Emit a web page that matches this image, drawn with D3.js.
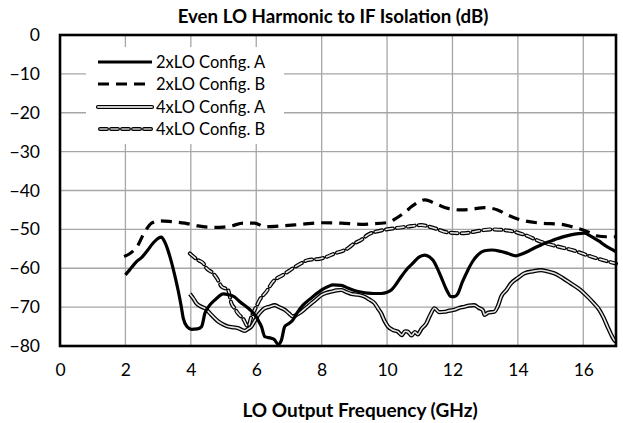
<!DOCTYPE html>
<html>
<head>
<meta charset="utf-8">
<script src="https://cdn.jsdelivr.net/npm/d3@7"></script>
<style>
  html, body { margin: 0; padding: 0; background: #fff; }
  svg text { font-family: Lato, "Open Sans", sans-serif; fill: #000; }
</style>
</head>
<body>
<div id="chart"></div>
<script>
// Frequency (GHz) / isolation (dB) pairs for each configuration
const lo2A = [
  [2.0,-61.7],[2.14,-60.3],[2.34,-58.3],[2.5,-57.2],[2.65,-55.7],[2.85,-53.5],[3.0,-52.3],[3.1,-52.0],
  [3.2,-53.2],[3.36,-57],[3.5,-61.5],[3.61,-65.6],[3.7,-69.5],[3.77,-72.9],[3.88,-75.0],[4.02,-75.7],
  [4.2,-75.6],[4.33,-75],[4.43,-71.6],[4.55,-69.8],[4.73,-68.2],[4.85,-67.3],[4.99,-66.6],[5.15,-66.8],
  [5.34,-67.4],[5.5,-68.6],[5.65,-69.6],[5.8,-70.6],[6.0,-72.5],[6.1,-74],[6.16,-75],[6.26,-77.6],
  [6.46,-78],[6.55,-78.3],[6.67,-79.6],[6.77,-78.5],[6.87,-75],[7.0,-74.2],[7.12,-73.3],[7.25,-71.5],
  [7.43,-69.5],[7.6,-68.2],[7.73,-67.3],[7.9,-66.2],[8.04,-65.4],[8.2,-64.7],[8.35,-64.3],[8.6,-64.4],
  [8.8,-65.1],[9.0,-65.7],[9.2,-66.1],[9.41,-66.4],[9.6,-66.5],[9.82,-66.5],[10.0,-66.2],[10.13,-65.6],
  [10.3,-63.8],[10.43,-62.2],[10.6,-60.3],[10.79,-58.7],[10.95,-57.3],[11.15,-56.6],[11.3,-57.1],
  [11.4,-57.9],[11.52,-59.7],[11.65,-62.2],[11.8,-65.2],[11.96,-67.3],[12.06,-67.3],[12.16,-66.6],
  [12.3,-63.6],[12.47,-60.5],[12.62,-58.2],[12.77,-56.6],[12.98,-55.5],[13.2,-55.3],[13.49,-55.7],
  [13.7,-56.2],[13.94,-56.8],[14.1,-56.4],[14.3,-55.7],[14.5,-54.8],[14.71,-54],[14.9,-53.3],
  [15.11,-52.7],[15.35,-52],[15.62,-51.4],[15.85,-51.1],[16.03,-51],[16.2,-51.6],[16.34,-52.3],
  [16.5,-53.1],[16.64,-54],[16.8,-54.8],[17.0,-55.8]
];
const lo2B = [
  [1.96,-57],[2.14,-56.2],[2.3,-55],[2.39,-54],[2.54,-51.4],[2.7,-49.3],[2.8,-48.4],[3.05,-47.8],
  [3.4,-48],[3.82,-48.4],[4.22,-49.1],[4.73,-49.5],[5.0,-49.4],[5.24,-49.1],[5.6,-48.4],[5.95,-48.4],
  [6.26,-49.3],[6.77,-49.1],[7.38,-48.7],[7.99,-48.3],[8.6,-48.4],[9.21,-48.7],[9.52,-48.6],
  [10.03,-48.2],[10.25,-47.3],[10.43,-46.3],[10.6,-45.2],[10.74,-44.2],[10.95,-43],[11.15,-42.4],
  [11.3,-42.7],[11.45,-43.3],[11.65,-44],[11.86,-44.6],[12.27,-45],[12.6,-44.8],[12.98,-44.4],
  [13.2,-44.6],[13.38,-45],[13.69,-46.3],[13.95,-47.2],[14.2,-47.8],[14.71,-48.4],[15.32,-48.7],
  [15.6,-49.2],[15.83,-49.7],[16.13,-50.6],[16.44,-51.7],[16.7,-51.9],[17.0,-51.9]
];
const lo4A = [
  [3.97,-66.6],[4.08,-67.8],[4.17,-69],[4.3,-69.8],[4.43,-70.3],[4.63,-72],[4.84,-73.7],[5.0,-74.5],
  [5.14,-75],[5.3,-75.2],[5.44,-75.4],[5.65,-76.1],[5.75,-75.6],[5.85,-75],[5.95,-73.6],[6.06,-72],
  [6.16,-71],[6.26,-70.3],[6.4,-69.9],[6.56,-69.5],[6.7,-70],[6.87,-70.7],[7.0,-71.6],[7.12,-72.4],
  [7.25,-71.9],[7.38,-71.2],[7.55,-70],[7.69,-69],[7.85,-67.9],[7.99,-66.9],[8.15,-66.3],[8.3,-66],
  [8.45,-65.7],[8.6,-65.6],[8.75,-66.1],[8.91,-66.6],[9.1,-66.8],[9.31,-67.3],[9.45,-68],[9.62,-69],
  [9.72,-70.3],[9.82,-71.6],[9.92,-73.5],[10.03,-75],[10.18,-75.9],[10.33,-76.3],[10.45,-77.2],
  [10.55,-76.2],[10.63,-76.3],[10.75,-77.3],[10.85,-76.4],[10.94,-77],[11.05,-75.6],[11.2,-74.2],
  [11.32,-72],[11.45,-70.3],[11.6,-71.3],[11.76,-71.2],[11.9,-70.9],[12.06,-70.7],[12.2,-70.2],
  [12.37,-69.9],[12.5,-69.6],[12.67,-69.5],[12.8,-70.2],[12.93,-70.8],[12.98,-72],[13.1,-71.4],
  [13.28,-71.2],[13.4,-69.5],[13.49,-67.3],[13.65,-65.6],[13.79,-63.9],[14.0,-62.5],[14.2,-61.3],
  [14.45,-60.8],[14.71,-60.5],[14.9,-60.8],[15.11,-61.3],[15.35,-62.4],[15.62,-63.9],[15.9,-65.5],
  [16.13,-67.3],[16.3,-68.8],[16.49,-70.7],[16.62,-72.7],[16.74,-75],[16.85,-77],[16.95,-78.5],[17.0,-78.9]
];
const lo4B = [
  [3.97,-56.2],[4.22,-57.9],[4.38,-58.7],[4.48,-60],[4.68,-61.3],[4.8,-62.6],[4.94,-64.7],[5.14,-65.6],
  [5.24,-69],[5.34,-70.3],[5.44,-71.6],[5.6,-73],[5.75,-75],[5.85,-72.5],[6.0,-69.9],[6.1,-68.2],
  [6.31,-66],[6.51,-63.5],[6.82,-61.7],[7.12,-60],[7.4,-58.6],[7.58,-57.9],[7.99,-57.5],[8.4,-56.2],
  [8.8,-54.9],[9.0,-53.6],[9.21,-52.7],[9.41,-51.4],[9.82,-50.3],[10.23,-49.7],[10.63,-49.3],
  [11.04,-48.9],[11.45,-49.7],[11.86,-50.8],[12.37,-51],[12.67,-50.6],[13.18,-50],[13.69,-50.3],
  [14.2,-51.4],[14.71,-53.2],[15.22,-54.4],[15.73,-55.5],[16.24,-57],[16.6,-57.9],[17.0,-58.8]
];

const seriesNames = ["2xLO Config. A", "2xLO Config. B", "4xLO Config. A", "4xLO Config. B"];
const xTicks = [0, 2, 4, 6, 8, 10, 12, 14, 16];
const yTicks = [0, -10, -20, -30, -40, -50, -60, -70, -80];

const W = 623, H = 423;
const m = { left: 60, right: 7, top: 35, bottom: 77 };

const svg = d3.select("#chart").append("svg")
  .attr("width", W).attr("height", H);

const x = d3.scaleLinear().domain([0, 17]).range([m.left, W - m.right]);
const y = d3.scaleLinear().domain([-80, 0]).range([H - m.bottom, m.top]);

// grid
const grid = svg.append("g").attr("stroke", "#a6a6a6").attr("stroke-width", 1.3);
grid.selectAll("line.v").data(xTicks.filter(d => d > 0)).join("line")
  .attr("x1", d => x(d)).attr("x2", d => x(d))
  .attr("y1", y(0)).attr("y2", y(-80));
grid.selectAll("line.h").data(yTicks.filter(d => d < 0 && d > -80)).join("line")
  .attr("x1", x(0)).attr("x2", x(17))
  .attr("y1", d => y(d)).attr("y2", d => y(d));

// axes (labels only)
const xAxis = svg.append("g")
  .attr("transform", `translate(0,${y(-80)})`)
  .call(d3.axisBottom(x).tickValues(xTicks).tickSize(0).tickPadding(18));
xAxis.select(".domain").remove();
xAxis.selectAll("text").attr("font-size", 17.5).style("font-family", "Lato, sans-serif");

const yAxis = svg.append("g")
  .attr("transform", `translate(${x(0)},0)`)
  .call(d3.axisLeft(y).tickValues(yTicks).tickSize(0).tickPadding(20));
yAxis.select(".domain").remove();
yAxis.selectAll("text").attr("font-size", 17.5).style("font-family", "Lato, sans-serif");

// curves
const line = d3.line().x(d => x(d[0])).y(d => y(d[1])).curve(d3.curveMonotoneX);
const plot = svg.append("g");

plot.append("path").attr("d", line(lo4A)).attr("fill", "none")
  .attr("stroke", "#000").attr("stroke-width", 4.2).attr("stroke-linejoin", "round");
plot.append("path").attr("d", line(lo4A)).attr("fill", "none")
  .attr("stroke", "#e6e6e6").attr("stroke-width", 1.6).attr("stroke-linejoin", "round");

plot.append("path").attr("d", line(lo4B)).attr("fill", "none")
  .attr("stroke", "#000").attr("stroke-width", 4).attr("stroke-dasharray", "7,4")
  .attr("stroke-linecap", "round");
plot.append("path").attr("d", line(lo4B)).attr("fill", "none")
  .attr("stroke", "#e6e6e6").attr("stroke-width", 1.6).attr("stroke-dasharray", "7,4")
  .attr("stroke-linecap", "round");

plot.append("path").attr("d", line(lo2B)).attr("fill", "none")
  .attr("stroke", "#000").attr("stroke-width", 3.2).attr("stroke-dasharray", "11,7");

plot.append("path").attr("d", line(lo2A)).attr("fill", "none")
  .attr("stroke", "#000").attr("stroke-width", 3.2).attr("stroke-linejoin", "round");

// frame
svg.append("rect").attr("x", x(0)).attr("y", y(0))
  .attr("width", x(17) - x(0)).attr("height", y(-80) - y(0))
  .attr("fill", "none").attr("stroke", "#000").attr("stroke-width", 2.6);

// legend
const lg = svg.append("g");
lg.append("rect").attr("x", 86).attr("y", 47).attr("width", 198).attr("height", 97).attr("fill", "#fff");
const rowY = [62, 84, 107, 129];
const sx0 = 98, sx1 = 152;
seriesNames.forEach((name, i) => {
  const yy = rowY[i];
  if (i === 0) {
    lg.append("line").attr("x1", sx0).attr("x2", sx1).attr("y1", yy).attr("y2", yy)
      .attr("stroke", "#000").attr("stroke-width", 3.2);
  } else if (i === 1) {
    lg.append("line").attr("x1", sx0).attr("x2", sx1).attr("y1", yy).attr("y2", yy)
      .attr("stroke", "#000").attr("stroke-width", 3.2).attr("stroke-dasharray", "11,7");
  } else if (i === 2) {
    lg.append("line").attr("x1", sx0).attr("x2", sx1).attr("y1", yy).attr("y2", yy)
      .attr("stroke", "#000").attr("stroke-width", 4.2).attr("stroke-linecap", "round");
    lg.append("line").attr("x1", sx0).attr("x2", sx1).attr("y1", yy).attr("y2", yy)
      .attr("stroke", "#c8c8c8").attr("stroke-width", 1.8).attr("stroke-linecap", "round");
  } else {
    lg.append("line").attr("x1", sx0 + 2).attr("x2", sx1).attr("y1", yy).attr("y2", yy)
      .attr("stroke", "#000").attr("stroke-width", 4).attr("stroke-dasharray", "7,4")
      .attr("stroke-linecap", "round");
    lg.append("line").attr("x1", sx0 + 2).attr("x2", sx1).attr("y1", yy).attr("y2", yy)
      .attr("stroke", "#c8c8c8").attr("stroke-width", 1.6).attr("stroke-dasharray", "7,4")
      .attr("stroke-linecap", "round");
  }
  lg.append("text").attr("x", 156).attr("y", yy).attr("dy", "0.35em")
    .attr("font-size", 16.5).text(name);
});

// titles
svg.append("text").attr("x", 333).attr("y", 23).attr("text-anchor", "middle")
  .attr("font-size", 18.7).attr("font-weight", "bold")
  .text("Even LO Harmonic to IF Isolation (dB)");
svg.append("text").attr("x", 360).attr("y", 417).attr("text-anchor", "middle")
  .attr("font-size", 19).attr("font-weight", "bold")
  .text("LO Output Frequency (GHz)");
</script>
</body>
</html>
